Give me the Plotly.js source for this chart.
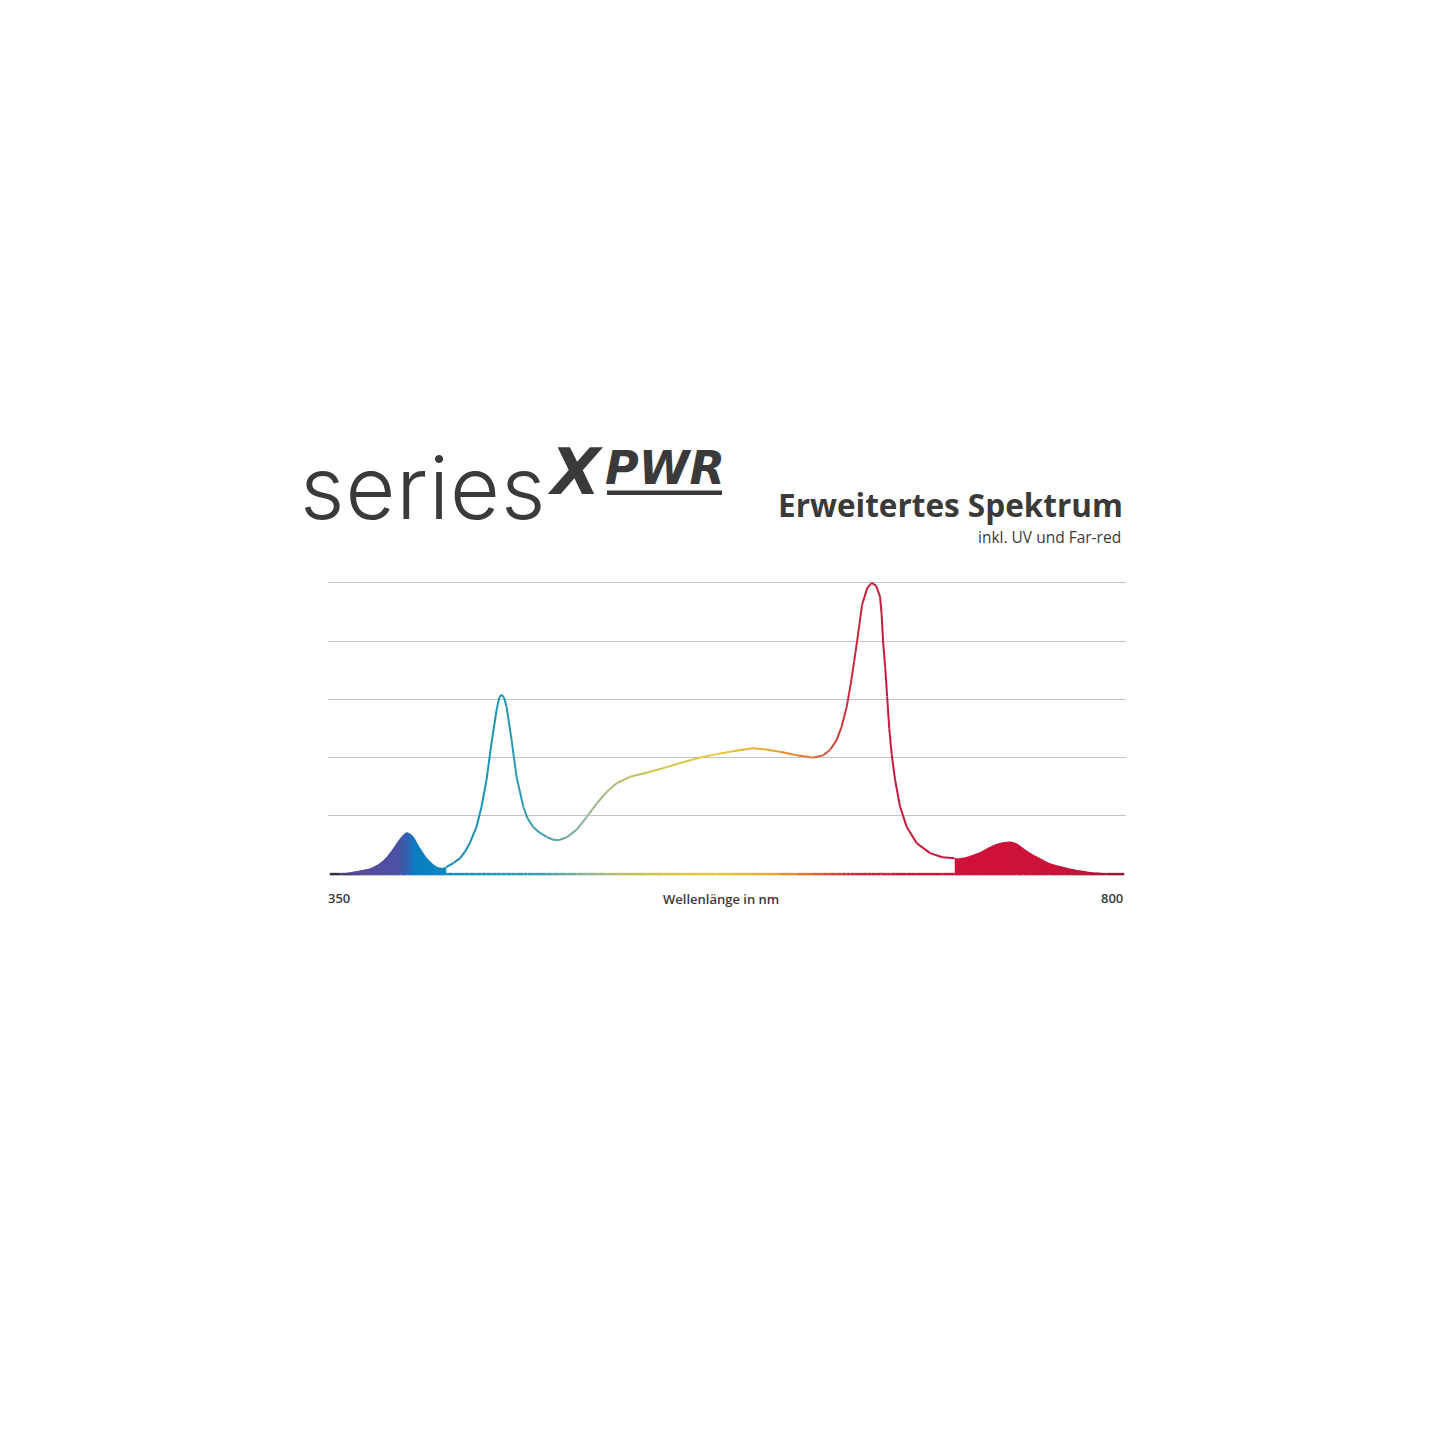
<!DOCTYPE html>
<html>
<head>
<meta charset="utf-8">
<script src="https://cdn.plot.ly/plotly-3.0.1.min.js"></script>
<style>html,body{margin:0;padding:0;background:#fff;}#chart{width:1445px;height:1445px;}</style>
</head>
<body>
<div id="chart"></div>
<script>
// ---- data ----
const wavelength = [350,356,363,368,373,378,382,386,390,393.5,397,401,405,410,413,416,
  420,423.7,426.5,429.3,433.1,436,438.8,441.6,444.5,446,447.3,448.7,450.1,453,455.8,459.6,462,465.2,468.5,
  472.8,476,479.5,484.2,489.8,495.5,501.2,506.8,512.5,520,529.5,538.9,550,559.7,569,578.4,589.7,597,605,
  614.4,623.8,629.5,633.3,637.1,639.9,642.8,645,647,648.7,651.5,654.4,657,659.5,661.7,662.6,663.4,664.6,
  665.7,666.9,668.3,670.2,673,676.8,682.5,690,697,704,710,718.4,724,728,732,735.4,739,742.8,747,752.4,
  757,762,770,780,790,800];
const intensity = [0,0.01,0.04,0.07,0.10,0.18,0.29,0.45,0.62,0.72,0.66,0.46,0.28,0.14,0.11,0.12,
  0.19,0.27,0.38,0.53,0.81,1.16,1.62,2.25,2.82,3.03,3.08,3.03,2.88,2.30,1.67,1.16,0.96,0.81,0.72,
  0.64,0.595,0.58,0.63,0.76,0.98,1.21,1.41,1.56,1.67,1.74,1.82,1.92,2.00,2.06,2.11,2.16,2.14,2.10,
  2.04,2.00,2.04,2.13,2.30,2.53,2.87,3.25,3.65,4.0,4.62,4.91,5.0,4.95,4.76,4.45,4.0,3.55,
  3.05,2.5,2.05,1.62,1.16,0.81,0.53,0.36,0.29,0.27,0.29,0.38,0.47,0.52,0.55,0.56,0.53,0.45,0.36,0.27,
  0.20,0.15,0.09,0.04,0.015,0];
const uvEnd = 416;        // end of filled UV band
const farRedStart = 704;  // start of filled far-red band
const xTickLabels = ["350","800"];
const xAxisTitle = "Wellenlänge in nm";
const titleText = "Erweitertes Spektrum";
const subtitleText = "inkl. UV und Far-red";

// ---- styles ----
const colorStops = [
  [350,[42,42,58]],[372,[90,74,154]],[392,[74,85,168]],[398,[10,126,192]],[420,[20,140,184]],
  [450,[33,152,180]],[475,[74,160,172]],[495,[143,179,150]],[515,[184,191,106]],[540,[214,196,72]],
  [570,[230,200,58]],[600,[230,168,54]],[618,[224,122,48]],[632,[214,80,58]],[645,[200,42,60]],
  [665,[196,28,60]],[720,[208,16,58]],[770,[192,21,58]],[800,[138,26,58]]];
function colorAt(nm){
  for(let i=0;i<colorStops.length-1;i++){
    const a=colorStops[i], b=colorStops[i+1];
    if(nm<=b[0]){const t=Math.max(0,(nm-a[0])/(b[0]-a[0]));
      const c=a[1].map((v,k)=>Math.round(v+(b[1][k]-v)*t));return `rgb(${c.join(',')})`;}
  }
  const c=colorStops[colorStops.length-1][1];return `rgb(${c.join(',')})`;
}

const L=328,R=319,T=580,B=568,W=1445;
const PW=W-L-R, PH=W-T-B, PBOT=W-B;
const X=px=>(px-L)/PW, Y=py=>(PBOT-py)/PH;

const traces=[];
// baseline (coloured by wavelength)
for(let i=0;i<wavelength.length-1;i++){
  const m=(wavelength[i]+wavelength[i+1])/2;
  traces.push({x:[wavelength[i],wavelength[i+1]],y:[0,0],mode:'lines',
    line:{color:colorAt(m),width:2.5},hoverinfo:'skip',showlegend:false});
}
// UV filled band
const uvIdx=wavelength.map((w,i)=>i).filter(i=>wavelength[i]<=uvEnd);
traces.push({x:uvIdx.map(i=>wavelength[i]),y:uvIdx.map(i=>intensity[i]),mode:'lines',
  line:{width:0,color:'rgba(0,0,0,0)',shape:'spline',smoothing:0.8},fill:'tozeroy',
  fillgradient:{type:'horizontal',colorscale:[[0,'#3a3456'],[0.2,'#5a4a9a'],[0.6,'#4a52a6'],[0.68,'#2a66b4'],[0.73,'#0a7cc0'],[1,'#0a8ac2']]},
  hoverinfo:'skip',showlegend:false});
// far-red filled band
const frIdx=wavelength.map((w,i)=>i).filter(i=>wavelength[i]>=farRedStart);
traces.push({x:frIdx.map(i=>wavelength[i]),y:frIdx.map(i=>intensity[i]),mode:'lines',
  line:{width:0,color:'rgba(0,0,0,0)',shape:'spline',smoothing:0.8},fill:'tozeroy',
  fillgradient:{type:'horizontal',colorscale:[[0,'#d0103a'],[0.55,'#cc1139'],[0.8,'#b8163a'],[1,'#7e1a3a']]},
  hoverinfo:'skip',showlegend:false});
// spectrum line (coloured by wavelength)
for(let i=0;i<wavelength.length-1;i++){
  if(wavelength[i]<uvEnd || wavelength[i]>=farRedStart) continue;
  const m=(wavelength[i]+wavelength[i+1])/2;
  traces.push({x:[wavelength[i],wavelength[i+1]],y:[intensity[i],intensity[i+1]],mode:'lines',
    line:{color:colorAt(m),width:2},hoverinfo:'skip',showlegend:false});
}

const txt='#3a3a3a';
const annotations=[
  {text:'<span style="letter-spacing:1px">series</span>',x:X(298),y:Y(488),xanchor:'left',yanchor:'middle',
   font:{family:'Inter',size:86,weight:300,color:txt}},
  {text:'X',x:X(545),y:Y(472),xanchor:'left',yanchor:'middle',
   font:{family:'DejaVu Sans',size:64,weight:700,style:'italic',color:txt}},
  {text:'PWR',x:X(603),y:Y(468),xanchor:'left',yanchor:'middle',
   font:{family:'DejaVu Sans',size:46,weight:700,style:'italic',color:txt}},
  {text:titleText,x:X(1125),y:Y(504),xanchor:'right',yanchor:'middle',
   font:{family:'Open Sans',size:31.5,weight:700,color:txt}},
  {text:subtitleText,x:X(1123),y:Y(537),xanchor:'right',yanchor:'middle',
   font:{family:'Open Sans',size:15.5,weight:400,color:txt}},
  {text:xTickLabels[0],x:X(326),y:Y(898),xanchor:'left',yanchor:'middle',
   font:{family:'Open Sans',size:13,weight:600,color:txt}},
  {text:xTickLabels[1],x:X(1125),y:Y(898),xanchor:'right',yanchor:'middle',
   font:{family:'Open Sans',size:13,weight:600,color:txt}},
  {text:xAxisTitle,x:X(720.5),y:Y(899),xanchor:'center',yanchor:'middle',
   font:{family:'Open Sans',size:13,weight:600,color:txt}}
].map(a=>Object.assign({xref:'paper',yref:'paper',showarrow:false},a));

const shapes=[{type:'rect',xref:'paper',yref:'paper',x0:X(607),x1:X(722),y0:Y(495),y1:Y(490.5),
  fillcolor:txt,line:{width:0}}];

const layout={
  width:1445,height:1445,paper_bgcolor:'#fff',plot_bgcolor:'#fff',
  margin:{l:L,r:R,t:T,b:B,pad:0},showlegend:false,
  xaxis:{range:[349,801],showgrid:false,zeroline:false,showticklabels:false,ticks:'',showline:false,fixedrange:true},
  yaxis:{range:[-0.05,5.05],tickvals:[1,2,3,4,5],showgrid:true,gridcolor:'#c4c4c4',gridwidth:1,
    zeroline:false,showticklabels:false,ticks:'',showline:false,fixedrange:true},
  annotations:annotations,shapes:shapes
};
Plotly.newPlot('chart',traces,layout,{staticPlot:true,displayModeBar:false});
</script>
</body>
</html>
